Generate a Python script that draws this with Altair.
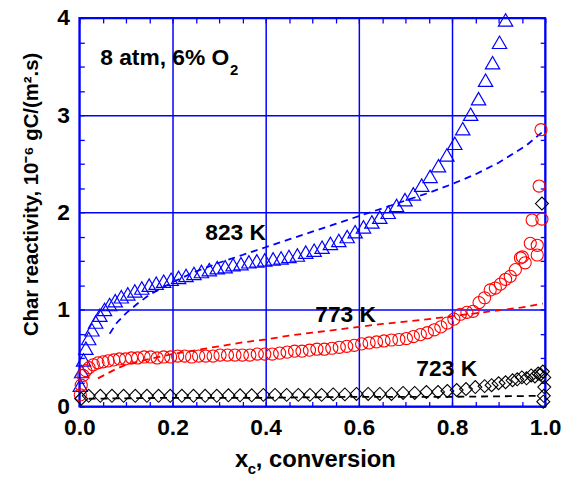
import altair as alt
import pandas as pd

# ---- data ----
# 823 K measured (triangles)
tri_x = [0.002, 0.005, 0.009, 0.014, 0.020, 0.027, 0.035, 0.044, 0.054, 0.065,
         0.077, 0.090, 0.104, 0.119, 0.134, 0.150, 0.165, 0.181, 0.197, 0.213,
         0.229, 0.246, 0.262, 0.279, 0.296, 0.313, 0.330, 0.347, 0.364, 0.381,
         0.398, 0.416, 0.433, 0.450, 0.468, 0.486, 0.504, 0.521, 0.539, 0.557,
         0.575, 0.592, 0.610, 0.628, 0.645, 0.663, 0.681, 0.699, 0.717, 0.735,
         0.753, 0.771, 0.789, 0.806, 0.823, 0.840, 0.857, 0.872, 0.887, 0.902, 0.915]
tri_y = [0.22, 0.36, 0.48, 0.60, 0.70, 0.79, 0.87, 0.94, 1.00, 1.05,
         1.09, 1.13, 1.16, 1.19, 1.22, 1.25, 1.27, 1.29, 1.31, 1.33,
         1.35, 1.37, 1.39, 1.41, 1.43, 1.44, 1.46, 1.47, 1.49, 1.50,
         1.51, 1.52, 1.53, 1.545, 1.56, 1.59, 1.61, 1.64, 1.68, 1.71,
         1.75, 1.80, 1.85, 1.90, 1.95, 2.00, 2.07, 2.13, 2.19, 2.28,
         2.37, 2.48, 2.59, 2.71, 2.86, 3.01, 3.17, 3.36, 3.54, 3.75, 3.98]

# 823 K model (dashed)
bd_x = [0.065, 0.08, 0.10, 0.125, 0.15, 0.20, 0.25, 0.30, 0.35, 0.40, 0.45, 0.50,
        0.55, 0.60, 0.65, 0.70, 0.75, 0.80, 0.85, 0.90, 0.93, 0.96, 0.98, 0.995]
bd_y = [0.75, 0.86, 0.96, 1.06, 1.15, 1.28, 1.39, 1.48, 1.56, 1.64, 1.72, 1.80,
        1.88, 1.96, 2.04, 2.12, 2.20, 2.29, 2.39, 2.51, 2.60, 2.69, 2.77, 2.83]

# 773 K measured (circles)
rc_x = [0.002, 0.004, 0.008, 0.014, 0.021, 0.030, 0.040, 0.051, 0.062, 0.074,
        0.086, 0.099, 0.112, 0.125, 0.139, 0.153, 0.167, 0.181, 0.196, 0.211,
        0.226, 0.241, 0.256, 0.271, 0.287, 0.302, 0.318, 0.334, 0.350, 0.366,
        0.382, 0.398, 0.414, 0.430, 0.446, 0.462, 0.478, 0.494, 0.510, 0.526,
        0.542, 0.558, 0.574, 0.590, 0.606, 0.622, 0.638, 0.654, 0.670, 0.686,
        0.702, 0.717, 0.732, 0.747, 0.762, 0.776, 0.790, 0.804, 0.818, 0.832,
        0.845, 0.858, 0.870, 0.882, 0.893, 0.904, 0.915, 0.925, 0.936, 0.947,
        0.951, 0.957, 0.968, 0.972, 0.983, 0.983, 0.987, 0.991, 0.993]
rc_y = [0.12, 0.22, 0.32, 0.37, 0.40, 0.43, 0.45, 0.46, 0.47, 0.48,
        0.49, 0.49, 0.50, 0.50, 0.51, 0.51, 0.50, 0.51, 0.51, 0.52,
        0.52, 0.51, 0.52, 0.52, 0.52, 0.53, 0.53, 0.53, 0.53, 0.53,
        0.54, 0.54, 0.54, 0.55, 0.56, 0.57, 0.57, 0.58, 0.59, 0.59,
        0.60, 0.61, 0.62, 0.63, 0.645, 0.655, 0.665, 0.675, 0.685, 0.69,
        0.70, 0.72, 0.74, 0.76, 0.79, 0.82, 0.86, 0.90, 0.95, 0.97,
        0.98, 1.07, 1.12, 1.20, 1.22, 1.26, 1.31, 1.34, 1.41, 1.53,
        1.54, 1.48, 1.68, 1.92, 1.66, 1.56, 2.27, 2.85, 1.93]

# 773 K model (dashed)
rd_x = [0.04, 0.06, 0.08, 0.10, 0.15, 0.20, 0.25, 0.30, 0.35, 0.40, 0.45,
        0.50, 0.55, 0.60, 0.65, 0.70, 0.75, 0.80, 0.85, 0.90, 0.95, 0.995]
rd_y = [0.29, 0.34, 0.39, 0.43, 0.49, 0.54, 0.58, 0.62, 0.66, 0.69, 0.73,
        0.76, 0.79, 0.82, 0.85, 0.875, 0.90, 0.93, 0.96, 0.99, 1.02, 1.06]

# 723 K measured (diamonds)
dm_x = [0.004, 0.020, 0.045, 0.070, 0.095, 0.120, 0.145, 0.170, 0.195, 0.220,
        0.245, 0.270, 0.295, 0.320, 0.345, 0.370, 0.395, 0.420, 0.445, 0.470,
        0.495, 0.520, 0.545, 0.570, 0.595, 0.620, 0.645, 0.670, 0.695, 0.720,
        0.745, 0.770, 0.790, 0.810, 0.830, 0.850, 0.870, 0.885, 0.900, 0.915,
        0.930, 0.940, 0.950, 0.960, 0.970, 0.978, 0.985, 0.990, 0.995, 0.998,
        0.998, 0.997, 0.996, 0.993]
dm_y = [0.08, 0.11, 0.11, 0.11, 0.11, 0.11, 0.11, 0.11, 0.11, 0.11,
        0.11, 0.11, 0.11, 0.115, 0.115, 0.115, 0.12, 0.12, 0.12, 0.12,
        0.12, 0.12, 0.125, 0.125, 0.13, 0.13, 0.13, 0.13, 0.14, 0.14,
        0.15, 0.15, 0.16, 0.17, 0.18, 0.20, 0.21, 0.22, 0.24, 0.25,
        0.27, 0.28, 0.30, 0.29, 0.32, 0.31, 0.34, 0.33, 0.36, 0.30,
        0.20, 0.11, 0.05, 2.09]

# 723 K model (dashed)
kd_x = [0.02, 0.2, 0.4, 0.6, 0.8, 0.9, 0.99]
kd_y = [0.08, 0.09, 0.09, 0.10, 0.10, 0.105, 0.11]

x_major = [0.0, 0.2, 0.4, 0.6, 0.8, 1.0]
y_major = [0, 1, 2, 3, 4]
x_minor = [i * 0.05 for i in range(21)]
y_minor = [i * 0.25 for i in range(17)]

BLUE = "#0000ff"
RED = "#ff0000"
FONT = "Liberation Sans"
W, H = 470, 392

xs = alt.Scale(domain=[0, 1], nice=False, zero=False, padding=0)
ys = alt.Scale(domain=[0, 4], nice=False, zero=False, padding=0)

main_x = alt.Axis(orient="bottom", values=x_major, format=".1f", grid=True,
                  gridColor=BLUE, gridWidth=1.5, gridOpacity=1, ticks=False,
                  domain=False, labelPadding=10, labelFlush=False, title=None)
main_y = alt.Axis(orient="left", values=y_major, format="d", grid=True,
                  gridColor=BLUE, gridWidth=1.5, gridOpacity=1, ticks=False,
                  domain=False, labelPadding=10, labelFlush=False, title=None)


def minor_axis(orient, values, offset):
    return alt.Axis(orient=orient, values=values, offset=offset, grid=False,
                    labels=False, domain=False, ticks=True, tickSize=5,
                    tickColor=BLUE, tickWidth=1.3, title=None)


df_tri = pd.DataFrame({"x": tri_x, "y": tri_y})
df_bd = pd.DataFrame({"x": bd_x, "y": bd_y})
df_rc = pd.DataFrame({"x": rc_x, "y": rc_y})
df_rd = pd.DataFrame({"x": rd_x, "y": rd_y})
df_dm = pd.DataFrame({"x": dm_x, "y": dm_y})
df_kd = pd.DataFrame({"x": kd_x, "y": kd_y})

tri = alt.Chart(df_tri).mark_point(shape="triangle-up", size=210, filled=False,
                                   color=BLUE, strokeWidth=1.2, opacity=1).encode(
    x=alt.X("x:Q", scale=xs, axis=main_x),
    y=alt.Y("y:Q", scale=ys, axis=main_y))

circ = alt.Chart(df_rc).mark_point(shape="circle", size=150, filled=False,
                                   color=RED, strokeWidth=1.1, opacity=1).encode(
    x=alt.X("x:Q", scale=xs, axis=minor_axis("top", x_minor, -H)),
    y=alt.Y("y:Q", scale=ys, axis=minor_axis("right", y_minor, -W)))

diam = alt.Chart(df_dm).mark_point(shape="diamond", size=170, filled=False,
                                   color="black", strokeWidth=1.1, opacity=1).encode(
    x=alt.X("x:Q", scale=xs, axis=minor_axis("bottom", x_minor, -H)),
    y=alt.Y("y:Q", scale=ys, axis=minor_axis("left", y_minor, -W)))


def dashed(df, color):
    return alt.Chart(df).mark_line(color=color, strokeDash=[7, 5], strokeWidth=1.8).encode(
        x=alt.X("x:Q", scale=xs, axis=None),
        y=alt.Y("y:Q", scale=ys, axis=None))


def label(text, px, py, size=23, align="left", angle=0):
    kw = dict(text=text, font=FONT, fontWeight="bold", fontSize=size,
              align=align, baseline="alphabetic", color="black")
    if angle:
        kw["angle"] = angle
    return alt.Chart(pd.DataFrame({"t": [text]})).mark_text(**kw).encode(
        x=alt.value(px), y=alt.value(py))


texts = [
    label("8 atm, 6% O", 21, 47),
    label("2", 152, 57, size=15),
    label("823 K", 127, 224),
    label("773 K", 238, 307),
    label("723 K", 340, 361),
    label("x", 157, 453, size=24),
    label("c", 170, 460, size=15),
    label(", conversion", 178, 453, size=24),
    label("Char reactivity, 10\u207b\u2076 gC/(m\u00b2.s)", -42, 178, size=20.5,
          align="center", angle=270),
]

chart = alt.layer(
    dashed(df_bd, BLUE), dashed(df_rd, RED), dashed(df_kd, "black"),
    tri, circ, diam, *texts
).resolve_axis(x="independent", y="independent").properties(
    width=W, height=H,
    autosize=alt.AutoSizeParams(type="none"),
    padding={"left": 72, "top": 8, "right": 20, "bottom": 68},
).configure_view(stroke=BLUE, strokeWidth=2).configure_axis(
    labelFont=FONT, labelFontWeight="bold", labelFontSize=23, labelColor="black"
)

chart.save("out.html", embed_options={"renderer": "svg", "actions": False})
